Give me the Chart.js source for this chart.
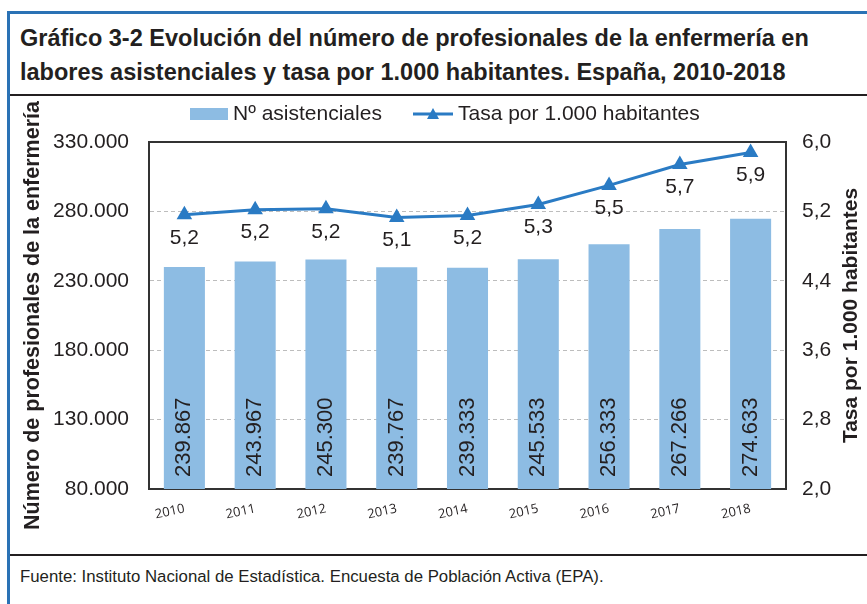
<!DOCTYPE html>
<html>
<head>
<meta charset="utf-8">
<script src="https://cdn.jsdelivr.net/npm/chart.js@4"></script>
<style>
  html, body { margin: 0; padding: 0; background: #fff; }
  body { width: 867px; height: 604px; position: relative; overflow: hidden; font-family: "Liberation Sans", Arial, sans-serif; color: #231f20; }
  .frame-top { position: absolute; left: 7px; top: 11px; width: 860px; height: 3px; background: #2a72b5; }
  .frame-left { position: absolute; left: 7px; top: 11px; width: 3px; height: 593px; background: #2a72b5; }
  .title { position: absolute; left: 20px; top: 21px; font-weight: bold; font-size: 23.5px; line-height: 34px; color: #231f20; white-space: nowrap; }
  .rule { position: absolute; left: 10px; width: 857px; background: #231f20; }
  .rule.top { top: 94px; height: 2px; }
  .rule.bottom { top: 554px; height: 1.5px; }
  .source { position: absolute; left: 20px; top: 567px; font-size: 16.8px; white-space: nowrap; }
  #wrap { position: absolute; left: 10px; top: 97px; width: 857px; height: 456px; }
</style>
</head>
<body>
<div class="frame-top"></div>
<div class="frame-left"></div>
<div class="title">Gráfico 3-2 Evolución del número de profesionales de la enfermería en<br>labores asistenciales y tasa por 1.000 habitantes. España, 2010-2018</div>
<div class="rule top"></div>
<div id="wrap"><canvas id="chart"></canvas></div>
<div class="rule bottom"></div>
<div class="source">Fuente: Instituto Nacional de Estadística. Encuesta de Población Activa (EPA).</div>
<script>
// Data
const years = ['2010', '2011', '2012', '2013', '2014', '2015', '2016', '2017', '2018'];
const nurses = [239867, 243967, 245300, 239767, 239333, 245533, 256333, 267266, 274633];
const rate = [5.16, 5.22, 5.23, 5.13, 5.152, 5.28, 5.50, 5.74, 5.88];
const leftTicks = [80000, 130000, 180000, 230000, 280000, 330000];
const rightTicks = [2.0, 2.8, 3.6, 4.4, 5.2, 6.0];
const rightTitle = 'Tasa por 1.000 habitantes';

const barColor = '#8dbce3';
const lineColor = '#2a7bc4';
const textColor = '#231f20';
const font = 'Liberation Sans';

function thousands(v) {
    return String(Math.round(v)).replace(/\B(?=(\d{3})+(?!\d))/g, '.');
}
function comma(v) {
    return v.toFixed(1).replace('.', ',');
}

// Plot frame (top edge + sides)
const framePlugin = {
    id: 'frame',
    beforeDatasetsDraw(chart) {
        const a = chart.chartArea;
        const ctx = chart.ctx;
        ctx.save();
        ctx.strokeStyle = '#333';
        ctx.lineWidth = 2;
        ctx.strokeRect(a.left, a.top, a.right - a.left, a.bottom - a.top);
        ctx.restore();
    }
};

// Value labels on bars and points, right axis title
const labelPlugin = {
    id: 'valueLabels',
    afterDatasetsDraw(chart) {
        const ctx = chart.ctx;
        const base = chart.scales.y.getPixelForValue(leftTicks[0]);
        ctx.save();
        ctx.fillStyle = textColor;
        ctx.font = '22px "' + font + '"';
        chart.getDatasetMeta(1).data.forEach((bar, i) => {
            ctx.save();
            ctx.translate(bar.x, base - 12);
            ctx.rotate(-Math.PI / 2);
            ctx.textAlign = 'left';
            ctx.textBaseline = 'middle';
            ctx.fillText(thousands(nurses[i]), 0, 0);
            ctx.restore();
        });
        ctx.font = '21px "' + font + '"';
        ctx.textAlign = 'center';
        ctx.textBaseline = 'middle';
        chart.getDatasetMeta(0).data.forEach((pt, i) => {
            ctx.fillText(comma(rate[i]), pt.x, pt.y + 23);
        });

        const a = chart.chartArea;
        ctx.save();
        ctx.translate(841, (a.top + a.bottom) / 2);
        ctx.rotate(-Math.PI / 2);
        ctx.font = 'bold 21px "' + font + '"';
        ctx.fillText(rightTitle, 0, 0);
        ctx.restore();
        ctx.restore();
    }
};

// Legend drawn above the plot
const legendPlugin = {
    id: 'topLegend',
    afterDraw(chart) {
        const ctx = chart.ctx;
        const y = 17;
        ctx.save();
        ctx.fillStyle = barColor;
        ctx.fillRect(180, y - 6, 38, 12);
        ctx.fillStyle = textColor;
        ctx.font = '21px "' + font + '"';
        ctx.textBaseline = 'middle';
        ctx.fillText(chart.data.datasets[1].label, 223, y);
        ctx.strokeStyle = lineColor;
        ctx.lineWidth = 3;
        ctx.beginPath();
        ctx.moveTo(403, y);
        ctx.lineTo(443, y);
        ctx.stroke();
        ctx.fillStyle = lineColor;
        ctx.beginPath();
        ctx.moveTo(423, y - 6);
        ctx.lineTo(429, y + 5);
        ctx.lineTo(417, y + 5);
        ctx.closePath();
        ctx.fill();
        ctx.fillStyle = textColor;
        ctx.fillText(chart.data.datasets[0].label, 448, y);
        ctx.restore();
    }
};

new Chart(document.getElementById('chart').getContext('2d'), {
    data: {
        labels: years,
        datasets: [{
            type: 'line',
            label: rightTitle,
            data: rate,
            yAxisID: 'y2',
            borderColor: lineColor,
            backgroundColor: lineColor,
            borderWidth: 3,
            pointStyle: 'triangle',
            pointRadius: 6,
            pointHoverRadius: 6,
            tension: 0,
            order: 0
        }, {
            type: 'bar',
            label: 'Nº asistenciales',
            data: nurses,
            yAxisID: 'y',
            backgroundColor: barColor,
            barPercentage: 0.58,
            categoryPercentage: 1,
            order: 1
        }]
    },
    options: {
        responsive: true,
        maintainAspectRatio: false,
        animation: false,
        layout: { padding: { top: 45, left: 0, right: 0, bottom: 0 } },
        plugins: {
            legend: { display: false },
            tooltip: { enabled: false }
        },
        scales: {
            x: {
                grid: { display: false, drawTicks: false },
                border: { display: true, color: '#333', width: 2 },
                ticks: {
                    color: textColor,
                    font: { family: 'Open Sans', size: 13 },
                    minRotation: 12,
                    maxRotation: 12,
                    padding: 12
                },
                afterFit(s) { s.height = 64; }
            },
            y: {
                position: 'left',
                min: leftTicks[0],
                max: leftTicks[leftTicks.length - 1],
                afterBuildTicks(s) { s.ticks = leftTicks.map(v => ({ value: v })); },
                grid: { color: '#bdbdbd', lineWidth: 1, drawTicks: false },
                border: { display: true, color: '#333', width: 2, dash: [4, 3] },
                ticks: {
                    color: textColor,
                    font: { family: font, size: 21 },
                    padding: 20,
                    callback: v => thousands(v)
                },
                title: {
                    display: true,
                    text: 'Número de profesionales de la enfermería',
                    color: textColor,
                    font: { family: font, size: 21.5, weight: 'bold' },
                    padding: { top: 10, bottom: 0 }
                },
                afterFit(s) { s.width = 139; }
            },
            y2: {
                position: 'right',
                min: rightTicks[0],
                max: rightTicks[rightTicks.length - 1],
                afterBuildTicks(s) { s.ticks = rightTicks.map(v => ({ value: v })); },
                grid: { display: false, drawTicks: false },
                border: { display: true, color: '#333', width: 2 },
                ticks: {
                    color: textColor,
                    font: { family: font, size: 21 },
                    padding: 16,
                    callback: v => comma(v)
                },
                afterFit(s) { s.width = 81; }
            }
        }
    },
    plugins: [framePlugin, labelPlugin, legendPlugin]
});
</script>
</body>
</html>
